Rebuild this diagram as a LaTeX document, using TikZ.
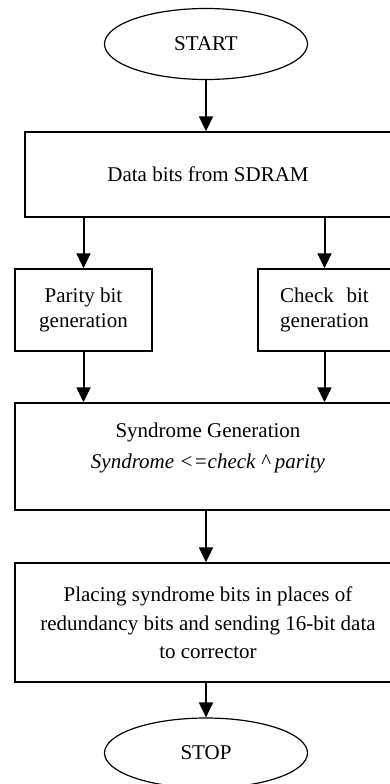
\documentclass[tikz,border=0pt]{standalone}
\usepackage{fontspec}
\setmainfont{Liberation Serif}
\usepackage{calc}
\usetikzlibrary{arrows.meta,positioning,shapes.geometric}

\begin{document}
\begin{tikzpicture}[x=1pt,y=-1pt,
  terminal/.style={draw,line width=1.2pt,ellipse,minimum width=203pt,minimum height=71pt,inner sep=0pt},
  process/.style={draw,line width=1.4pt,align=center,inner sep=0pt},
  flow/.style={line width=2pt,-{Triangle[length=15pt,width=14pt]}},
  font=\fontsize{21}{25}\selectfont]
  \clip (0,0) rectangle (390,784);
  \node[terminal] (start) at (206,44) {START};
  \node[process,minimum width=366pt,minimum height=85pt] (data) at (208,174.5) {Data bits from SDRAM};
  \node[process,minimum width=137pt,minimum height=82pt] (parity) at (83.5,310) {Parity bit\\generation};
  \node[process,minimum width=133pt,minimum height=82pt] (check) at (324.5,310) {\makebox[\widthof{generation}][s]{Check bit}\\generation};
  \node[process,minimum width=386pt,minimum height=107pt,text depth=22pt] (syndrome) at (208,456.5) {Syndrome Generation\\[6pt]\textit{Syndrome <=check \textasciicircum\ parity}};
  \node[process,minimum width=386pt,minimum height=119pt] (placing) at (208,622.5) {Placing syndrome bits in places of\\[4pt]redundancy bits and sending 16-bit data\\[3pt]to corrector};
  \node[terminal,minimum height=70pt] (stop) at (206,753) {STOP};
  % connectors
  \draw[flow] (start.south) -- (start.south|-data.north);
  \draw[flow] (parity.north|-data.south) -- (parity.north);
  \draw[flow] (check.north|-data.south) -- (check.north);
  \draw[flow] (parity.south) -- (parity.south|-syndrome.north);
  \draw[flow] (check.south) -- (check.south|-syndrome.north);
  \draw[flow] (start.south|-syndrome.south) -- (start.south|-placing.north);
  \draw[flow] (stop.north|-placing.south) -- (stop.north);
\end{tikzpicture}
\end{document}
